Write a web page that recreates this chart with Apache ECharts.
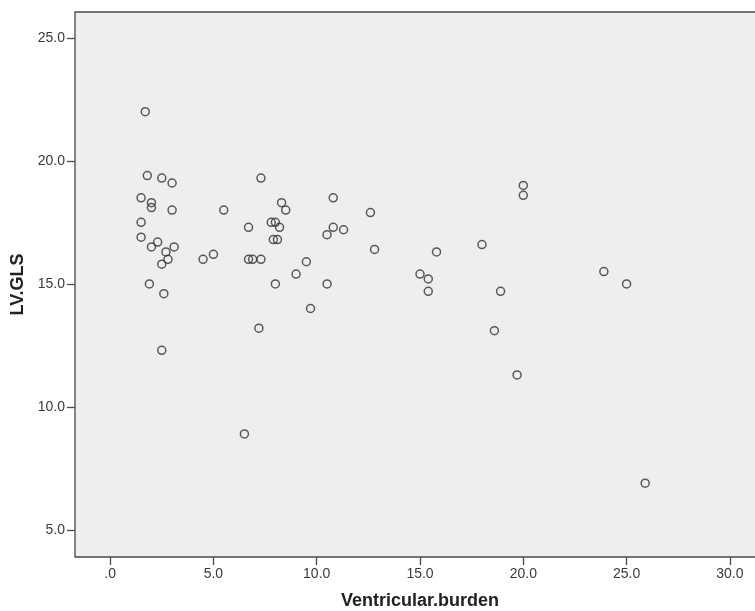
<!DOCTYPE html>
<html>
<head>
<meta charset="utf-8">
<script src="https://cdn.jsdelivr.net/npm/echarts@6/dist/echarts.min.js"></script>
<style>
  html, body { margin: 0; padding: 0; background: #fff; }
  #chart { width: 755px; height: 611px; }
</style>
</head>
<body>
<div id="chart"></div>
<script>
// Ventricular burden (x) vs LV.GLS (y).
const burden = [
  1.7, 1.8, 2.5, 3.0, 7.3, 1.5, 2.0, 2.0, 3.0, 5.5,
  10.8, 8.3, 8.5, 1.5, 6.7, 7.8, 8.0, 8.2, 10.8, 11.3,
  10.5, 1.5, 7.9, 8.1, 2.3, 2.0, 3.1, 2.7, 5.0, 4.5,
  2.8, 6.7, 6.9, 7.3, 2.5, 9.5, 9.0, 1.9, 8.0, 10.5,
  2.6, 9.7, 7.2, 2.5, 20.0, 20.0, 12.6, 12.8, 15.8, 18.0,
  15.0, 15.4, 15.4, 18.9, 18.6, 23.9, 25.0, 6.5, 19.7, 25.9
];
const lvGls = [
  22.0, 19.4, 19.3, 19.1, 19.3, 18.5, 18.3, 18.1, 18.0, 18.0,
  18.5, 18.3, 18.0, 17.5, 17.3, 17.5, 17.5, 17.3, 17.3, 17.2,
  17.0, 16.9, 16.8, 16.8, 16.7, 16.5, 16.5, 16.3, 16.2, 16.0,
  16.0, 16.0, 16.0, 16.0, 15.8, 15.9, 15.4, 15.0, 15.0, 15.0,
  14.6, 14.0, 13.2, 12.3, 19.0, 18.6, 17.9, 16.4, 16.3, 16.6,
  15.4, 15.2, 14.7, 14.7, 13.1, 15.5, 15.0, 8.9, 11.3, 6.9
];
const xTicks = [0, 5, 10, 15, 20, 25, 30];
const yTicks = [5, 10, 15, 20, 25];

const points = burden.map((b, i) => [b, lvGls[i]]);
const fmt = (v) => (v === 0 ? '.0' : v.toFixed(1));
const font = "'Liberation Sans', Arial, sans-serif";

const chart = echarts.init(document.getElementById('chart'));
chart.setOption({
  animation: false,
  grid: {
    // plot box runs past the right edge of the picture
    left: 75, top: 12, height: 545, width: 690,
    outerBoundsMode: 'none',
    containLabel: false,
    show: true,
    backgroundColor: '#eeeeee',
    borderColor: '#4a4a4a',
    borderWidth: 1.3
  },
  xAxis: {
    type: 'value',
    min: -1.7, max: 31.7,
    name: 'Ventricular.burden',
    nameLocation: 'middle',
    nameGap: 35,
    nameTextStyle: { fontFamily: font, fontWeight: 'bold', fontSize: 18, color: '#222' },
    axisLine: { show: false, onZero: false },
    splitLine: { show: false },
    axisTick: {
      show: true, length: 8, customValues: xTicks,
      lineStyle: { color: '#4a4a4a', width: 1.3 }
    },
    axisLabel: {
      customValues: xTicks, formatter: fmt, margin: 10,
      fontFamily: font, fontSize: 14, color: '#3a3a3a'
    }
  },
  yAxis: {
    type: 'value',
    min: 3.9, max: 26.05,
    name: 'LV.GLS',
    nameLocation: 'middle',
    nameGap: 47,
    nameRotate: 90,
    nameTextStyle: { fontFamily: font, fontWeight: 'bold', fontSize: 18, color: '#222' },
    axisLine: { show: false, onZero: false },
    splitLine: { show: false },
    axisTick: {
      show: true, length: 8, customValues: yTicks,
      lineStyle: { color: '#4a4a4a', width: 1.3 }
    },
    axisLabel: {
      customValues: yTicks, formatter: fmt, margin: 10,
      fontFamily: font, fontSize: 14, color: '#3a3a3a'
    }
  },
  series: [{
    type: 'scatter',
    data: points,
    symbol: 'circle',
    symbolSize: 8,
    itemStyle: { color: 'rgba(0,0,0,0)', borderColor: '#333', borderWidth: 1.5 }
  }]
});
</script>
</body>
</html>
